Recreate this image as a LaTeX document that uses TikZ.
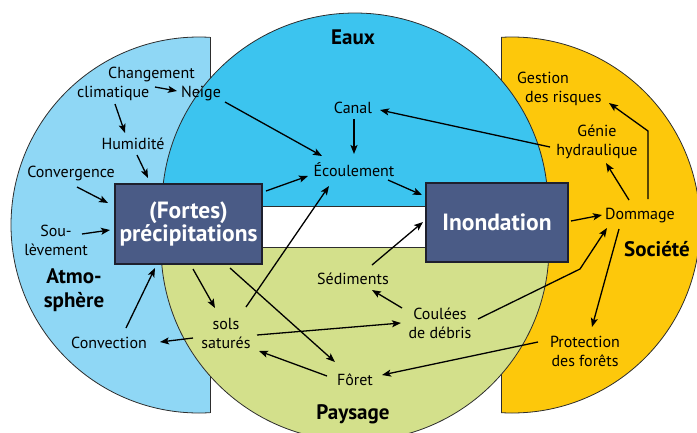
\documentclass[tikz,border=0pt]{standalone}
\usepackage{fontspec}
\setmainfont{PT Sans}
\usetikzlibrary{arrows.meta}
\definecolor{atmoc}{RGB}{143,215,245}
\definecolor{eauxc}{RGB}{60,196,239}
\definecolor{paysc}{RGB}{211,224,139}
\definecolor{socc}{RGB}{253,200,11}
\definecolor{boxfill}{RGB}{74,91,134}
\definecolor{edgec}{RGB}{45,45,45}
\definecolor{boxline}{RGB}{30,32,45}
\tikzset{
  lbl/.style={font=\fontsize{16}{19}\selectfont, align=center, inner sep=1pt, text=black},
  ttl/.style={font=\fontsize{21}{24}\selectfont\bfseries, align=center, inner sep=1pt},
  boxn/.style={draw=boxline, line width=1.2pt, fill=boxfill, text=white,
    font=\fontsize{23.5}{24}\selectfont\bfseries, align=center, inner sep=0pt},
  arr/.style={line width=1.3pt, -{Stealth[length=9pt,width=7pt,inset=2pt]}},
  zone/.style={draw=edgec, line width=0.8pt},
  zline/.style={draw=edgec, line width=0.8pt}
}
\begin{document}
\begin{tikzpicture}[x=1pt,y=-1pt]
\useasboundingbox (0,0) rectangle (697,432);
% zones
\begin{scope}
  \clip (0,0) rectangle (210,432);
  \path[zone, fill=atmoc] (199,225) circle [radius=188pt];
\end{scope}
\draw[zline] (210,37.3) -- (210,412.7);
\begin{scope}
  \clip (501,0) rectangle (697,432);
  \path[zone, fill=socc] (512,225) circle [radius=188pt];
\end{scope}
\draw[zline] (501,37.3) -- (501,412.7);
\begin{scope}
  \clip (0,0) rectangle (697,206);
  \path[zone, fill=eauxc] (355,206) circle [radius=193pt];
\end{scope}
\draw[zline] (162,206) -- (548,206);
\begin{scope}
  \clip (0,247) rectangle (697,432);
  \path[zone, fill=paysc] (355,247) circle [radius=194pt];
\end{scope}
\draw[zline] (161,247) -- (549,247);

% boxes
\node[boxn, minimum width=147pt, minimum height=80pt] (prec) at (188.5,224) {(Fortes)\\[-1pt]précipitations};
\node[boxn, minimum width=142pt, minimum height=79pt] (inon) at (497,222.5) {Inondation};

% titles
\node[ttl] (eaux) at (353,37) {Eaux};
\node[ttl] (atmo) at (74,290) {Atmo-\\sphère};
\node[ttl] (pays) at (353,414) {Paysage};
\node[ttl] (soc) at (657,249) {Société};

% labels
\node[lbl, align=left, anchor=west] (chg) at (76,83.5) {\hspace*{31pt}Changement\\climatique};
\node[lbl] (neige) at (201,94) {Neige};
\node[lbl] (hum) at (133,144) {Humidité};
\node[lbl] (conv) at (71,173) {Convergence};
\node[lbl] (soul) at (56,240) {Sou-\\lèvement};
\node[lbl] (convec) at (109,343) {Convection};
\node[lbl] (sols) at (226,333) {sols\\saturés};
\node[lbl] (canal) at (353,108) {Canal};
\node[lbl] (ecoul) at (354,170) {Écoulement};
\node[lbl] (sed) at (353,279) {Sédiments};
\node[lbl] (coul) at (440,323) {Coulées\\de débris};
\node[lbl] (foret) at (355,380) {Fôret};
\node[lbl, align=left, anchor=west] (gest) at (516,89) {Gestion\\\hspace*{8pt}des risques};
\node[lbl] (genie) at (597,142) {Génie\\hydraulique};
\node[lbl] (domm) at (640,216) {Dommage};
\node[lbl] (prot) at (585,351) {Protection\\des forêts};

% arrows
\draw[arr] ([shift={(79,3.5)}]chg.west) -- ([shift={(-24,-3)}]neige.center);
\draw[arr] ([shift={(39,20.5)}]chg.west) -- ([shift={(-8,-11)}]hum.center);
\draw[arr] ([shift={(4,11)}]hum.center) -- ([shift={(-40.5,-46)}]prec.center);
\draw[arr] ([shift={(6,14)}]conv.center) -- ([shift={(-80.5,-21)}]prec.center);
\draw[arr] ([shift={(26,-6)}]soul.center) -- ([shift={(-78.5,6)}]prec.center);
\draw[arr] ([shift={(17,-15)}]convec.center) -- ([shift={(-33.5,44)}]prec.center);
\draw[arr] ([shift={(-33,5)}]sols.center) -- ([shift={(51,-1)}]convec.center);
\draw[arr] ([shift={(24,8)}]neige.center) -- ([shift={(-32,-14)}]ecoul.center);
\draw[arr] ([shift={(77.5,-33)}]prec.center) -- ([shift={(-46,6)}]ecoul.center);
\draw[arr] ([shift={(1,11)}]canal.center) -- ([shift={(0,-16)}]ecoul.center);
\draw[arr] ([shift={(34,10)}]ecoul.center) -- ([shift={(-75,-27.5)}]inon.center);
\draw[arr] ([shift={(20,-26)}]sols.center) -- ([shift={(-25,16)}]ecoul.center);
\draw[arr] ([shift={(4.5,45)}]prec.center) -- ([shift={(-11,-25)}]sols.center);
\draw[arr] ([shift={(41.5,44)}]prec.center) -- ([shift={(-20,-18)}]foret.center);
\draw[arr] ([shift={(31,2)}]sols.center) -- ([shift={(-39,0)}]coul.center);
\draw[arr] ([shift={(-28,-4)}]foret.center) -- ([shift={(33,18)}]sols.center);
\draw[arr] ([shift={(-38,-15)}]coul.center) -- ([shift={(19,11)}]sed.center);
\draw[arr] ([shift={(19,-14)}]sed.center) -- ([shift={(-74,-0.5)}]inon.center);
\draw[arr] ([shift={(38,-4)}]coul.center) -- ++(102,-50) -- ([shift={(-33,12)}]domm.center);
\draw[arr] ([shift={(-47,-9)}]prot.center) -- ([shift={(27,-5)}]foret.center);
\draw[arr] ([shift={(74,-1.5)}]inon.center) -- ([shift={(-38,-1)}]domm.center);
\draw[arr] ([shift={(-21,13)}]domm.center) -- ([shift={(7,-24)}]prot.center);
\draw[arr] ([shift={(-11,-16)}]domm.center) -- ([shift={(9,21)}]genie.center);
\draw[arr] ([shift={(8,-17)}]domm.center) -- ++(0,-68) -- ([shift={(93,14)}]gest.west);
\draw[arr] ([shift={(-47,5)}]genie.center) -- ([shift={(27,2)}]canal.center);
\end{tikzpicture}
\end{document}
